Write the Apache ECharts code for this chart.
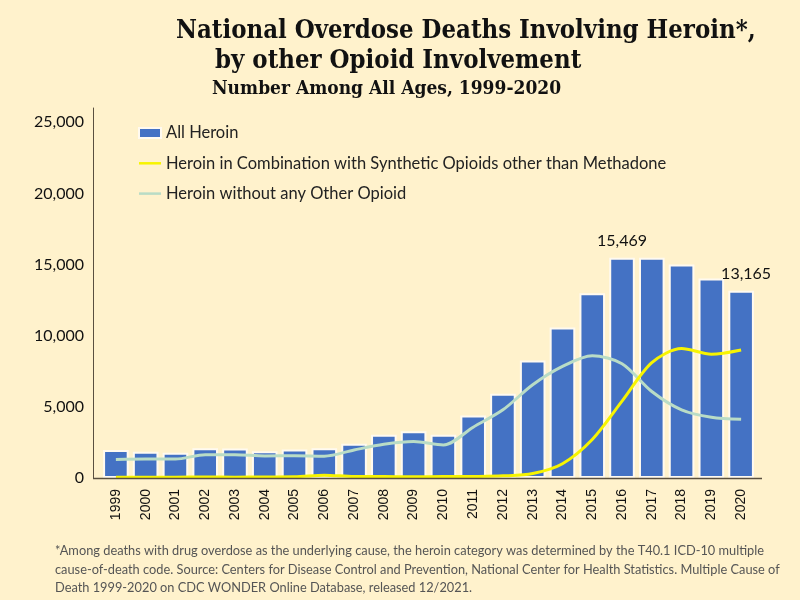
<!DOCTYPE html>
<html><head><meta charset="utf-8">
<script src="https://cdn.jsdelivr.net/npm/echarts@6/dist/echarts.min.js"></script>
<style>html,body{margin:0;padding:0;background:#fff2cc}#c{width:800px;height:600px}</style>
</head><body><div id="c"></div>
<script>
const years = ['1999','2000','2001','2002','2003','2004','2005','2006','2007','2008','2009','2010','2011','2012','2013','2014','2015','2016','2017','2018','2019','2020'];
const allHeroin = [1960,1842,1779,2089,2080,1878,2009,2088,2399,3041,3278,3036,4397,5925,8257,10574,12989,15469,15482,14996,14019,13165];
const heroinSynthetic = [60,50,60,70,60,70,80,200,100,100,90,100,110,150,310,1000,2700,5400,8100,9100,8700,9000];
const heroinOnly = [1300,1330,1330,1640,1640,1550,1560,1530,1970,2370,2560,2320,3570,4790,6550,7840,8590,8030,6080,4790,4270,4130];
const labeledYears = ['2016','2020'];
const yTicks = [0,5000,10000,15000,20000,25000];

const chart = echarts.init(document.getElementById('c'), null, {renderer:'canvas'});
const fontUI = 'Lato, "Open Sans", sans-serif';
const lineIcon = 'path://M0,0 H44 V5 H0 Z';
chart.setOption({
  backgroundColor:'#fff2cc',
  animation:false,
  grid:{left:101,right:44,top:108,bottom:122,containLabel:false},
  legend:{
    orient:'vertical', left:133, top:119.5, itemGap:13.3, itemWidth:22, itemHeight:10,
    textStyle:{fontFamily:fontUI,fontSize:16.5,color:'#222'},
    data:[{name:'All Heroin',icon:'rect'},
          {name:'Heroin in Combination with Synthetic Opioids other than Methadone',icon:lineIcon},
          {name:'Heroin without any Other Opioid',icon:lineIcon}]
  },
  xAxis:{type:'category',data:years,
    axisLine:{show:false},axisTick:{show:false},
    axisLabel:{rotate:90,margin:11,fontFamily:'"Liberation Sans", Arial, sans-serif',fontSize:14,color:'#111'}},
  yAxis:{type:'value',min:0,max:26000,interval:5000,offset:8,
    axisLine:{show:true,lineStyle:{color:'#5a5040',width:1}},axisTick:{show:false},splitLine:{show:false},
    axisLabel:{margin:9,fontFamily:fontUI,fontSize:16,color:'#111',
      formatter:v=>yTicks.includes(v)?v.toLocaleString('en-US'):''}},
  series:[
    {name:'All Heroin',type:'bar',barCategoryGap:'14%',z:1,
      itemStyle:{color:'#4472c4',borderColor:'#fffaf0',borderWidth:2},
      data:allHeroin.map((v,i)=>({value:v,label:{show:labeledYears.includes(years[i]),position:'top',distance:9,
        offset:years[i]==='2020'?[5,0]:[0,0],
        formatter:p=>p.value.toLocaleString('en-US'),fontFamily:fontUI,fontSize:16,color:'#111'}}))},
    {name:'Heroin in Combination with Synthetic Opioids other than Methadone',type:'line',data:heroinSynthetic,smooth:0.3,
      symbol:'none',z:3,lineStyle:{color:'#f7f400',width:3},itemStyle:{color:'#f7f400'}},
    {name:'Heroin without any Other Opioid',type:'line',data:heroinOnly,smooth:0.3,
      symbol:'none',z:2,lineStyle:{color:'#b9dcc6',width:3},itemStyle:{color:'#b9dcc6'}}
  ],
  graphic:[
    {type:'line',shape:{x1:93,y1:478.5,x2:762,y2:478.5},style:{stroke:'#5a5040',lineWidth:1.5},z:10},
    {type:'text',left:176,top:18,style:{text:'National Overdose Deaths Involving Heroin*,',font:'bold 25.5px "DejaVu Serif Condensed", "DejaVu Serif", serif',fill:'#111'}},
    {type:'text',left:215,top:48,style:{text:'by other Opioid Involvement',font:'bold 25.5px "DejaVu Serif Condensed", "DejaVu Serif", serif',fill:'#111'}},
    {type:'text',left:212,top:80,style:{text:'Number Among All Ages, 1999-2020',font:'bold 19px "DejaVu Serif Condensed", "DejaVu Serif", serif',fill:'#111'}},
    {type:'text',left:55,top:542,style:{text:'*Among deaths with drug overdose as the underlying cause, the heroin category was determined by the T40.1 ICD-10 multiple\ncause-of-death code. Source: Centers for Disease Control and Prevention, National Center for Health Statistics. Multiple Cause of\nDeath 1999-2020 on CDC WONDER Online Database, released 12/2021.',
      font:'12.8px Lato, "Open Sans", sans-serif',fill:'#555',lineHeight:18.5}}
  ]
});
</script></body></html>
